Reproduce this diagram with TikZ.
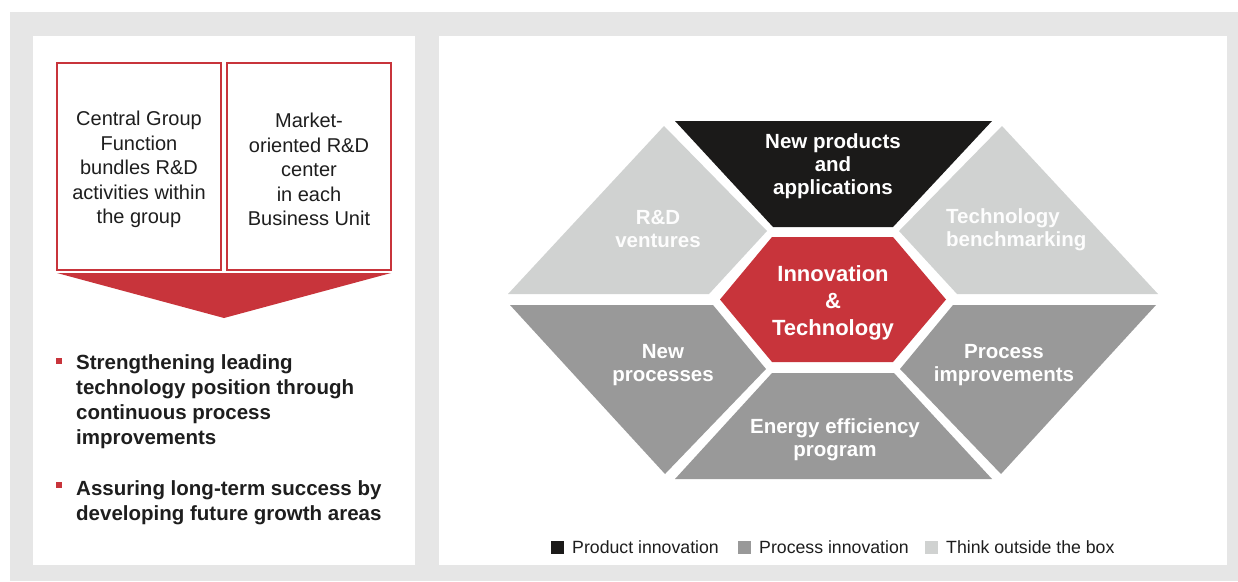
\documentclass[tikz,border=0pt]{standalone}
\usepackage{fontspec}
\setmainfont{Liberation Sans}
\definecolor{bggray}{HTML}{E6E6E6}
\definecolor{brandred}{HTML}{C8343B}
\definecolor{darkpiece}{HTML}{1B1A19}
\definecolor{midpiece}{HTML}{999999}
\definecolor{lightpiece}{HTML}{D0D2D1}
\definecolor{textgray}{HTML}{1E1E1E}

\begin{document}
\begin{tikzpicture}[x=1pt, y=-1pt,
    redbox/.style={draw=brandred, line width=1.6pt, minimum width=164pt, minimum height=207pt, inner sep=0pt},
    boxtext/.style={align=center, inner sep=0pt, text=textgray, font=\fontsize{20}{24.5}\selectfont},
    bulletmark/.style={fill=brandred, minimum size=6pt, inner sep=0pt},
    bullettext/.style={anchor=north west, align=left, inner sep=0pt, text=textgray,
      font=\fontsize{20.5}{25}\selectfont\bfseries},
    hextext/.style={align=center, inner sep=0pt, text=white, font=\fontsize{20.5}{23}\selectfont\bfseries},
    legendbox/.style={fill=#1, minimum size=13pt, inner sep=0pt},
    legendtext/.style={anchor=base west, inner sep=0pt, text=textgray, font=\fontsize{17.7}{20}\selectfont}]

    \useasboundingbox (0,0) rectangle (1238,581);
    % background and the two panels
    \fill[bggray] (10,12) rectangle (1238,581);
    \fill[white] (33,36) rectangle (415,565);
    \fill[white] (439,36) rectangle (1227,565);

    % left panel
    \node[redbox] (central) at (139,166.5) {};
    \node[boxtext] (centraltext) at (139,169.5) {Central Group\\Function\\bundles R\&D\\activities within\\the group};
    \node[redbox] (market) at (309,166.5) {};
    \node[boxtext] (markettext) at (309,169.5) {Market-\\oriented R\&D\\center\\in each\\Business Unit};
    \fill[brandred] (57,273) -- (391,273) -- (224,318) -- cycle;

    \node[bulletmark] (markone) at (59,361) {};
    \node[bullettext] (strength) at (76,354) {Strengthening leading\\technology position through\\continuous process\\improvements};
    \node[bulletmark] (marktwo) at (59,485) {};
    \node[bullettext] (assure) at (76,480) {Assuring long-term success by\\developing future growth areas};

    % hexagon pieces
    \fill[darkpiece] (675,121) -- (992,121) -- (893,227) -- (773,227) -- cycle;
    \fill[lightpiece] (664,126) -- (767,231) -- (709,294) -- (508,294) -- cycle;
    \fill[lightpiece] (1002,126) -- (899,231) -- (957,294) -- (1158,294) -- cycle;
    \fill[brandred] (772,237) -- (893,237) -- (946,299.5) -- (893,362) -- (772,362) -- (720,299.5) -- cycle;
    \fill[midpiece] (510,305) -- (713,305) -- (766,369) -- (665,474) -- cycle;
    \fill[midpiece] (1156,305) -- (953,305) -- (900,369) -- (1001,474) -- cycle;
    \fill[midpiece] (675,479) -- (992,479) -- (894,373) -- (772,373) -- cycle;

    \node[hextext] (newprod) at (833,166) {New products\\and\\applications};
    \node[hextext, text=white!96!lightpiece] (ventures) at (658,229.5) {R\&D\\ventures};
    \node[hextext, text=white!96!lightpiece, align=left, anchor=west] (bench) at (946,230) {Technology\\benchmarking};
    \node[hextext, font=\fontsize{22}{27}\selectfont\bfseries] (innov) at (833,303) {Innovation\\\&\\Technology};
    \node[hextext] (newproc) at (663,365) {New\\processes};
    \node[hextext] (procimp) at (1004,365) {Process\\improvements};
    \node[hextext] (energy) at (835,440) {Energy efficiency\\program};

    % legend
    \node[legendbox=darkpiece] (prodkey) at (557.5,547.5) {};
    \node[legendtext] (prodlabel) at (572,553.5) {Product innovation};
    \node[legendbox=midpiece] (prockey) at (744.5,547.5) {};
    \node[legendtext] (proclabel) at (759,553.5) {Process innovation};
    \node[legendbox=lightpiece] (thinkkey) at (931.5,547.5) {};
    \node[legendtext] (thinklabel) at (946,553.5) {Think outside the box};
  \end{tikzpicture}
\end{document}
